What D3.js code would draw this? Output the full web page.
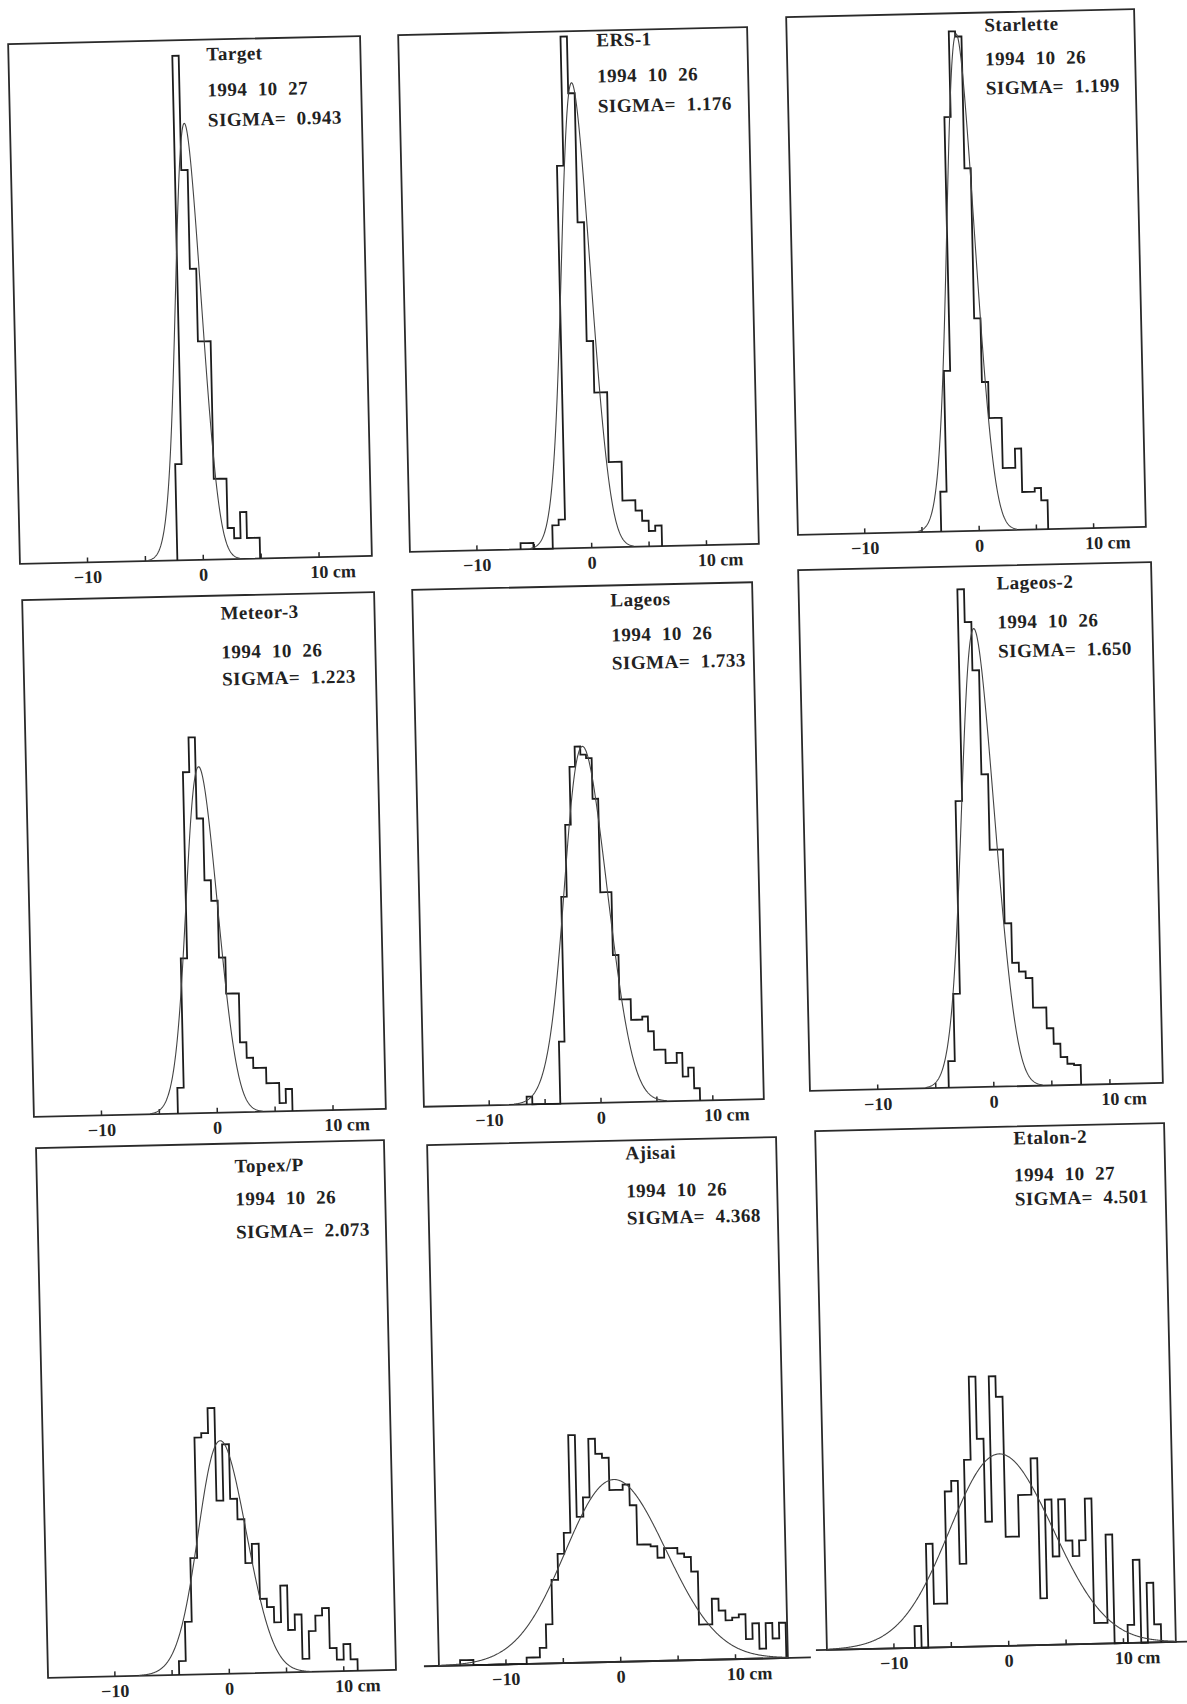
<!DOCTYPE html>
<html>
<head>
<meta charset="utf-8">
<script src="https://cdn.jsdelivr.net/npm/d3@7"></script>
<style>
  body { margin: 0; background: #fff; }
  svg { display: block; background: #fff; }
  text { font-family: "Liberation Serif", "Times New Roman", serif; font-weight: bold; fill: #222; }
</style>
</head>
<body>
<div id="chart"></div>
<script>
var width = 1187,
  height = 1704;

/**
 * DATA
 * heights are in % of the frame height, x in cm
 * */
var satellites = ["Target", "ERS-1", "Starlette", "Meteor-3", "Lageos", "Lageos-2", "Topex/P", "Ajisai", "Etalon-2"];
var dates = ["1994  10  27", "1994  10  26", "1994  10  26", "1994  10  26", "1994  10  26",
  "1994  10  26", "1994  10  26", "1994  10  26", "1994  10  27"];
var sigmas = [0.943, 1.176, 1.199, 1.223, 1.733, 1.650, 2.073, 4.368, 4.501];

var binStart = [-2.2, -6.15, -3.28, -3.36, -6.6, -3.84, -4.34, -13.95, -8.13];
var binWidth = [0.55, 0.56, 0.55, 0.55, 0.5, 0.57, 0.6, 0.58, 0.58];

var countsTarget = [18.5, 97, 75, 56, 42, 42, 15.5, 15.5, 6, 4, 9, 4, 4];
var countsERS = [1.2, 1.2, 0, 0, 0, 4.5, 5.6, 74, 99, 88, 63, 40, 30, 30, 16.5, 16.5, 9, 9, 7, 5, 3, 4];
var countsStarlette = [7.7, 31, 80, 96.5, 95.5, 70, 41, 28.7, 21.7, 21.7, 12, 12, 15.7, 7.3, 7.3, 8, 5.6];
var countsMeteor = [5, 30, 66, 72.7, 57, 45, 41, 30, 23, 23, 13.5, 10.5, 8.5, 8.5, 5.5, 5.5, 1.6, 4.3];
var countsLageos = [1.5, 0, 0, 0, 0, 0, 12, 40, 53.9, 65.1, 69, 67.4, 66.7, 58.8, 40.7, 40.7, 28.5, 19.9,
  19.9, 15.9, 15.9, 16.5, 13.6, 10, 10, 7.4, 7.4, 9.3, 4.7, 6.4, 2.4];
var countsLageos2 = [5.1, 18, 55, 95.6, 89.3, 80, 60, 45.5, 45.5, 31.3, 23.7, 22, 20.7, 15, 15, 11, 8, 5.4, 4.1, 3.8];
var countsTopex = [2.6, 10, 22, 44.7, 45.5, 50.2, 32.7, 43.3, 33, 29.1, 20.8, 24.4, 14, 12.4, 9.5, 16.4, 8,
  10.9, 2.5, 7.7, 10.6, 12, 4.4, 2.2, 5.1, 2.2];
var countsAjisai = [1, 1, 0, 0, 0, 0, 0, 0, 0, 0,
  1.2, 1.2, 3, 7.5, 16, 21, 25, 43.7, 28, 31.7, 42.9, 40, 39.2, 33, 33, 34, 30, 22.4, 22.4, 22,
  19.8, 21.6, 21.6, 20.5, 19.8, 17, 6.8, 6.8, 11.7, 9.4, 7.5, 8, 8.6, 3.8, 6.8, 1.9, 6.8, 3.8, 6.8];
var countsEtalon = [4.2, 0, 20, 8.4, 8.4, 30, 32, 16, 36, 52, 40, 24, 52, 48, 21, 21, 29, 29, 36, 9, 28, 17,
  28, 20, 17, 20, 28, 4, 4, 21, 0, 0, 3.5, 16, 0, 11.5, 3.5];

var counts = [countsTarget, countsERS, countsStarlette, countsMeteor, countsLageos, countsLageos2,
  countsTopex, countsAjisai, countsEtalon];

// fitted normal curve drawn over each histogram
var fitMean = [-0.75, -0.8, -1.0, -0.9, -0.9, -0.8, -0.3, -0.2, -0.4];
var fitSd = [1.1, 1.25, 1.2, 1.35, 1.9, 1.4, 2.1, 4.4, 4.5];
var fitPeak = [84, 90, 96, 67, 69, 88, 44, 35, 37];

var xDomain = [-15.8, 14.6];
var xTicks = [-10, -5, 0, 5, 10];
var xTickLabels = { "-10": "\u221210", "0": "0", "10": "10 cm" };

/**
 * LAYOUT (frame of each panel on the page, text offsets)
 * */
var frames = [
  { x: 14, y: 40, w: 352, h: 520, ty: 15, dy: 51, sy: 81 },
  { x: 404, y: 31, w: 349, h: 517, ty: 10, dy: 46, sy: 76 },
  { x: 792, y: 13, w: 348, h: 518, ty: 13, dy: 47, sy: 76 },
  { x: 28, y: 596, w: 352, h: 517, ty: 18, dy: 57, sy: 84 },
  { x: 418, y: 586, w: 340, h: 517, ty: 15, dy: 50, sy: 78 },
  { x: 804, y: 566, w: 353, h: 521, ty: 18, dy: 57, sy: 86 },
  { x: 42, y: 1144, w: 348, h: 530, ty: 23, dy: 56, sy: 89 },
  { x: 433, y: 1141, w: 349, h: 521, ty: 13, dy: 51, sy: 78, extL: 15, extR: 23 },
  { x: 821, y: 1127, w: 349, h: 519, ty: 12, dy: 49, sy: 73, extL: 11, extR: 17 }
];
var tilt = -1.3; // the scan is slightly rotated

var svg = d3.select("#chart")
  .append("svg")
  .attr("width", width)
  .attr("height", height);

var fmt = d3.format(".3f");

satellites.forEach(function(name, i) {
  var f = frames[i];
  var x = d3.scaleLinear().domain(xDomain).range([0, f.w]);
  var y = d3.scaleLinear().domain([0, 100]).range([f.h, 0]);

  var g = svg.append("g")
    .attr("transform", "translate(" + f.x + "," + f.y + ") rotate(" + tilt + "," + (f.w / 2) + "," + (f.h / 2) + ")");

  // frame
  g.append("rect")
    .attr("width", f.w)
    .attr("height", f.h)
    .attr("fill", "none")
    .attr("stroke", "#2a2a2a")
    .attr("stroke-width", 1.8);

  if (f.extL) {
    g.append("line")
      .attr("x1", -f.extL).attr("x2", f.w + f.extR)
      .attr("y1", f.h).attr("y2", f.h)
      .attr("stroke", "#2a2a2a")
      .attr("stroke-width", 1.8);
  }

  // x axis: inward ticks, labels at -10, 0, 10
  var axis = g.append("g")
    .attr("transform", "translate(0," + f.h + ")")
    .call(d3.axisBottom(x)
      .tickValues(xTicks)
      .tickSizeInner(-5)
      .tickSizeOuter(0)
      .tickPadding(8)
      .tickFormat(function(d) { return xTickLabels[d] || ""; }));
  axis.select(".domain").remove();
  axis.selectAll(".tick line").attr("stroke", "#2a2a2a").attr("stroke-width", 1.5);
  axis.selectAll(".tick text")
    .attr("fill", "#222")
    .style("font-family", "'Liberation Serif', serif")
    .style("font-weight", "bold")
    .style("font-size", "18px");
  axis.selectAll(".tick text")
    .filter(function(d) { return d === 10; })
    .attr("text-anchor", "start")
    .attr("x", -9);

  // histogram outline
  var c = counts[i];
  var pts = [[binStart[i], 0]];
  c.forEach(function(v, k) { pts.push([binStart[i] + k * binWidth[i], v]); });
  pts.push([binStart[i] + c.length * binWidth[i], 0]);

  g.append("path")
    .datum(pts)
    .attr("fill", "none")
    .attr("stroke", "#1c1c1c")
    .attr("stroke-width", 1.8)
    .attr("d", d3.line().x(function(d) { return x(d[0]); }).y(function(d) { return y(d[1]); }).curve(d3.curveStepAfter));

  // fitted normal curve
  var lo = Math.max(xDomain[0], fitMean[i] - 3.6 * fitSd[i]);
  var hi = Math.min(xDomain[1], fitMean[i] + 3.6 * fitSd[i]);
  var curve = d3.range(lo, hi, 0.04).concat([hi]).map(function(v) {
    return [v, fitPeak[i] * Math.exp(-0.5 * Math.pow((v - fitMean[i]) / fitSd[i], 2))];
  });

  g.append("path")
    .datum(curve)
    .attr("fill", "none")
    .attr("stroke", "#444")
    .attr("stroke-width", 1.1)
    .attr("d", d3.line().x(function(d) { return x(d[0]); }).y(function(d) { return y(d[1]); }));

  // annotation
  var tx = 198;
  var ann = g.append("g").style("font-size", "19px").style("letter-spacing", "0.5px");
  ann.append("text").attr("x", tx).attr("y", f.ty + 6).text(name);
  ann.append("text").attr("x", tx).attr("y", f.dy + 6)
    .attr("xml:space", "preserve").style("white-space", "pre").text(dates[i]);
  ann.append("text").attr("x", tx).attr("y", f.sy + 6)
    .attr("xml:space", "preserve").style("white-space", "pre").text("SIGMA=  " + fmt(sigmas[i]));
});
</script>
</body>
</html>
